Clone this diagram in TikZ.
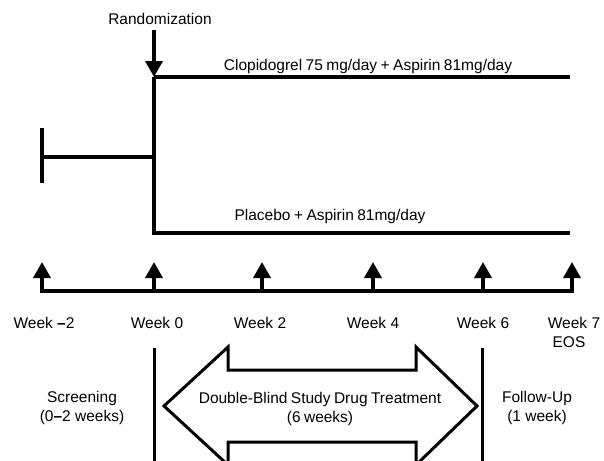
\documentclass[tikz,border=0pt]{standalone}
\usepackage{fontspec}
\setmainfont{Liberation Sans}
\newfontfamily\tightsans[WordSpace=0.8]{Liberation Sans}
\usetikzlibrary{arrows.meta}
\tikzset{
  lbl/.style={font=\fontsize{15.5}{19}\selectfont, inner sep=0pt, align=center},
  tlbl/.style={font=\tightsans\fontsize{15.5}{19}\selectfont, inner sep=0pt, align=center},
  thickline/.style={line width=4pt},
  sepline/.style={line width=3pt},
  tickarrow/.style={line width=3.5pt, -{Triangle[length=16pt,width=17pt]}},
  bigarrow/.style={line width=3pt, fill=white, line join=miter},
}
\begin{document}
\begin{tikzpicture}[x=1pt,y=-1pt]
\useasboundingbox (0,0) rectangle (604,460);
\begin{scope}
\clip (0,0) rectangle (604,460);
% randomization
\node[lbl] (rand) at (160,19) {Randomization};
\coordinate (rtop) at (154,30);
\coordinate (split) at (154,77);
\draw[line width=3.5pt, -{Triangle[length=16pt,width=17pt]}] (rtop) -- (split);
% arms
\coordinate (topend) at (570,77);
\coordinate (botstart) at (154,233);
\coordinate (botend) at (570,233);
\draw[thickline] (split) -- (topend);
\draw[thickline] (split) -- (botstart) -- (botend);
\node[tlbl] (clop) at (368,66) {Clopidogrel 75 mg/day + Aspirin 81mg/day};
\node[tlbl] (plac) at (330,216) {Placebo + Aspirin 81mg/day};
% screening bracket
\coordinate (bt) at (42,128);
\coordinate (bb) at (42,183);
\coordinate (bm) at (42,157);
\coordinate (bmr) at (154,157);
\draw[thickline] (bt) -- (bb);
\draw[thickline] (bm) -- (bmr);
% timeline
\coordinate (tl) at (42,291);
\coordinate (tr) at (572,291);
\draw[thickline, line cap=rect] (tl) -- (tr);
\foreach \x/\n in {42/a,154/b,262/c,373/d,483/e,572/f}{
  \coordinate (base\n) at (\x,291);
  \coordinate (tip\n) at (\x,262);
  \draw[tickarrow] (base\n) -- (tip\n);
}
\node[lbl] (wm2) at (44,323) {Week \textbf{–}2};
\node[lbl] (w0) at (157,323) {Week 0};
\node[lbl] (w2) at (260,323) {Week 2};
\node[lbl] (w4) at (373,323) {Week 4};
\node[lbl] (w6) at (483,323) {Week 6};
\node[lbl] (w7) at (574,323) {Week 7};
\node[lbl] (eos) at (569,342) {EOS};
% separators
\coordinate (s1t) at (154,348);
\coordinate (s1b) at (154,462);
\coordinate (s2t) at (482,348);
\coordinate (s2b) at (482,462);
\draw[sepline] (s1t) -- (s1b);
\draw[sepline] (s2t) -- (s2b);
% double arrow
\draw[bigarrow] (164,406) -- (228,347) -- (228,370) -- (416,370) -- (416,347)
  -- (477,406) -- (416,465) -- (416,442) -- (228,442) -- (228,465) -- cycle;
\node[lbl] (scr) at (82,408) {Screening\\(0\textbf{–}2 weeks)};
\node[tlbl] (dbl) at (320,409) {Double-Blind Study Drug Treatment\\(6 weeks)};
\node[lbl] (fu) at (537,408) {Follow-Up\\(1 week)};
\end{scope}
\end{tikzpicture}
\end{document}
